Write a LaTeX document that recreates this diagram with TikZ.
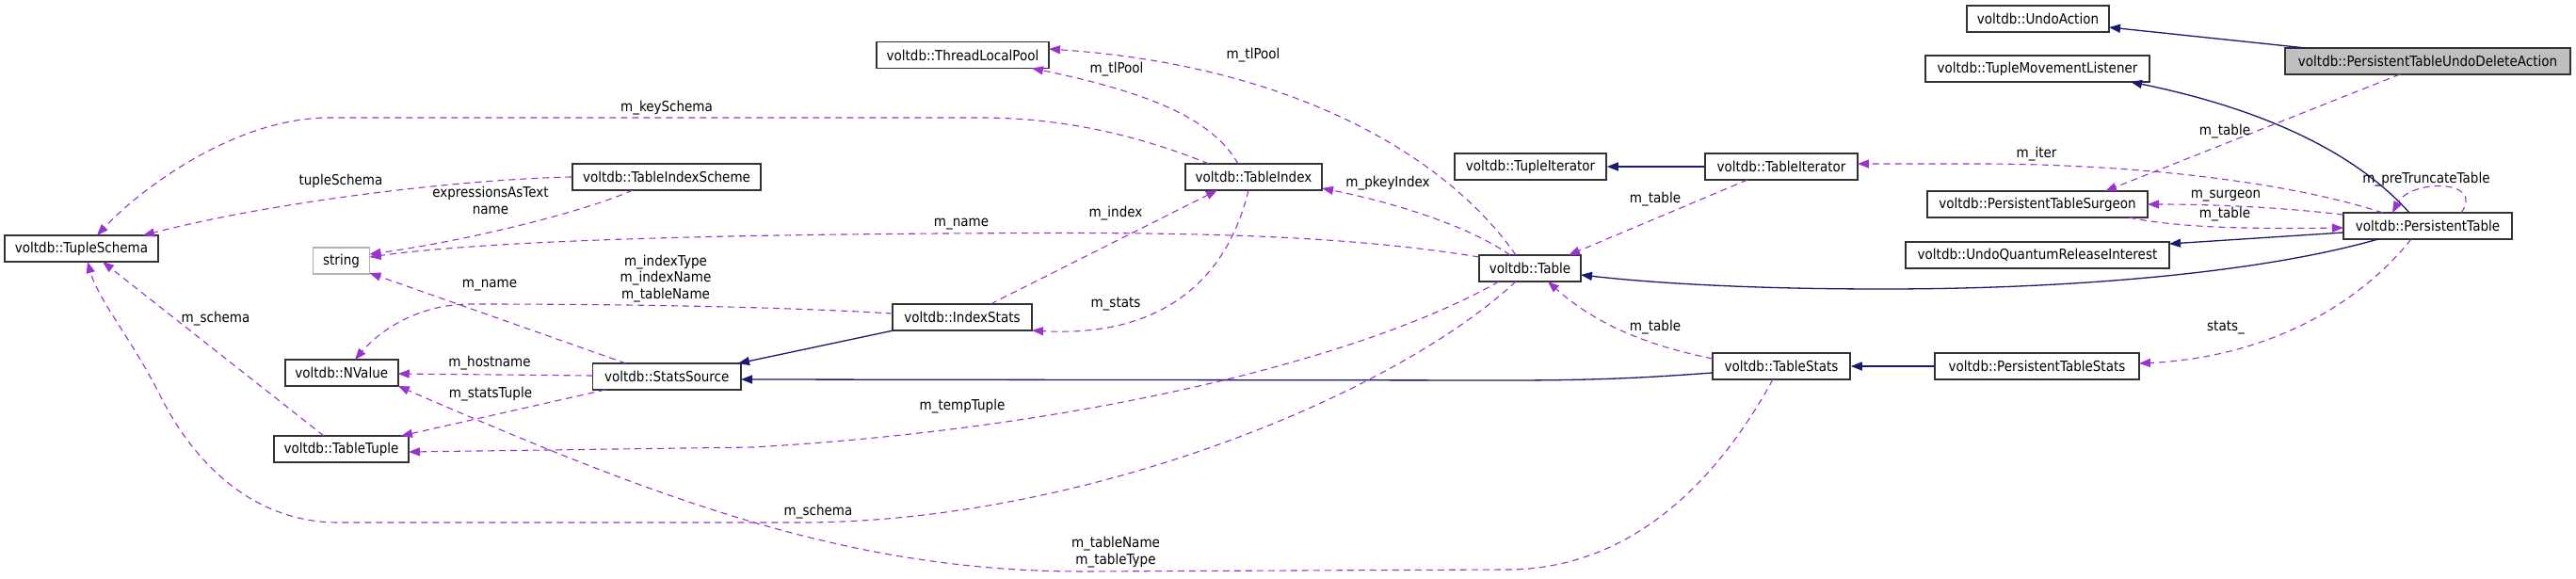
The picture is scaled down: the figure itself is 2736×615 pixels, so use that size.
\documentclass[tikz,border=0pt]{standalone}
\usepackage{fontspec}
\setmainfont{DejaVu Sans}[FakeStretch=0.9]
\usetikzlibrary{arrows.meta}
\definecolor{inhcol}{HTML}{191970}
\definecolor{usecol}{HTML}{9A32CD}
\definecolor{bordcol}{HTML}{333333}
\newcommand{\dgfont}{\fontsize{15}{17.5}\selectfont}
\begin{document}
\begin{tikzpicture}[x=1pt,y=-1pt,
  cls/.style={draw=bordcol, line width=1.5pt, fill=white, minimum height=28pt, inner sep=0pt, font=\dgfont},
  strcls/.style={cls, draw=black!30},
  maincls/.style={cls, fill=black!25},
  lbl/.style={inner sep=0pt, align=center, font=\dgfont},
  useedge/.style={draw=usecol, line width=1.1pt, dash pattern=on 7pt off 5pt, -{Triangle[length=12pt,width=9pt]}},
  inhedge/.style={draw=inhcol, line width=1.3pt, -{Triangle[length=12pt,width=9pt]}}]
\useasboundingbox (0,0) rectangle (2736,615);
% nodes
\node[cls, minimum width=163pt] (TS) at (86.5,264) {voltdb::TupleSchema};
\node[strcls, minimum width=60pt] (STR) at (362.5,277) {string};
\node[cls, minimum width=200pt] (TIS) at (708,188) {voltdb::TableIndexScheme};
\node[cls, minimum width=120pt] (NV) at (362.75,396) {voltdb::NValue};
\node[cls, minimum width=143pt] (TT) at (362.5,477) {voltdb::TableTuple};
\node[cls, minimum width=157.5pt] (SS) at (708.25,400) {voltdb::StatsSource};
\node[cls, minimum width=183pt] (TLP) at (1022.5,58.5) {voltdb::ThreadLocalPool};
\node[cls, minimum width=145pt] (TI) at (1331.5,188) {voltdb::TableIndex};
\node[cls, minimum width=148pt] (IS) at (1022,337) {voltdb::IndexStats};
\node[cls, minimum width=161pt] (TupIt) at (1625.5,177) {voltdb::TupleIterator};
\node[cls, minimum width=162pt] (TabIt) at (1892,177) {voltdb::TableIterator};
\node[cls, minimum width=108pt] (TAB) at (1625,285) {voltdb::Table};
\node[cls, minimum width=146pt] (TST) at (1892,389) {voltdb::TableStats};
\node[cls, minimum width=151pt] (UA) at (2164.5,20) {voltdb::UndoAction};
\node[maincls, minimum width=303pt] (PTUDA) at (2578.5,65) {voltdb::PersistentTableUndoDeleteAction};
\node[cls, minimum width=238pt] (TML) at (2164,73) {voltdb::TupleMovementListener};
\node[cls, minimum width=234pt] (PTS) at (2164,217) {voltdb::PersistentTableSurgeon};
\node[cls, minimum width=179pt] (PT) at (2578.5,240) {voltdb::PersistentTable};
\node[cls, minimum width=280pt] (UQRI) at (2164,271) {voltdb::UndoQuantumReleaseInterest};
\node[cls, minimum width=217pt] (PTSt) at (2163.5,389) {voltdb::PersistentTableStats};
% inheritance edges
\draw[inhedge] ([shift={(-129.5,-14)}]PTUDA.center) -- ([shift={(75.5,9)}]UA.center);
\draw[inhedge] ([shift={(-19.5,-14)}]PT.center) .. controls (2500,160) and (2400,115) .. ([shift={(99,14)}]TML.center);
\draw[inhedge] ([shift={(-89.5,7)}]PT.center) -- ([shift={(140,-12)}]UQRI.center);
\draw[inhedge] ([shift={(-52.5,14)}]PT.center) .. controls (2400,290) and (2200,307) .. (2000,307) .. controls (1850,307) and (1750,300) .. ([shift={(54,7)}]TAB.center);
\draw[inhedge] (TabIt.west) -- (TupIt.east);
\draw[inhedge] ([shift={(-73,7)}]TST.center) .. controls (1750,401) and (1700,404) .. (1600,404) -- ([shift={(78.75,3)}]SS.center);
\draw[inhedge] ([shift={(-73,14)}]IS.center) -- ([shift={(75.75,-14)}]SS.center);
\draw[inhedge] (PTSt.west) -- (TST.east);
% usage edges
\draw[useedge] ([shift={(-47.5,-14)}]TI.center) .. controls (1200,140) and (1120,125) .. (1040,125) -- (350,125) .. controls (250,125) and (150,200) .. ([shift={(16.5,-14)}]TS.center);
\draw[useedge] (TIS.west) .. controls (500,190) and (300,212) .. ([shift={(65.5,-14)}]TS.center);
\draw[useedge] ([shift={(-36,14)}]TIS.center) .. controls (620,225) and (500,255) .. ([shift={(30,-7)}]STR.center);
\draw[useedge] ([shift={(-54,-12)}]TAB.center) .. controls (1400,245) and (1200,247) .. (1000,248) .. controls (700,250) and (500,258) .. ([shift={(30,-4)}]STR.center);
\draw[useedge] ([shift={(-43.25,-14)}]SS.center) -- ([shift={(30,13)}]STR.center);
\draw[useedge] ([shift={(-74,-4)}]IS.center) .. controls (850,327) and (700,323) .. (500,323) .. controls (440,323) and (400,355) .. ([shift={(14.25,-14)}]NV.center);
\draw[useedge] ([shift={(-78.75,-1)}]SS.center) -- ([shift={(60,1)}]NV.center);
\draw[useedge] ([shift={(-65.25,14)}]SS.center) -- ([shift={(63.5,-14)}]TT.center);
\draw[useedge] ([shift={(-33,14)}]TAB.center) .. controls (1450,380) and (1150,455) .. (800,475) -- ([shift={(71.5,3)}]TT.center);
\draw[useedge] ([shift={(-15,14)}]TAB.center) .. controls (1480,420) and (1150,555) .. (850,555) -- (360,555) .. controls (260,555) and (200,480) .. (170,420) .. controls (140,360) and (105,320) .. ([shift={(6.5,14)}]TS.center);
\draw[useedge] ([shift={(-18.5,-14)}]TT.center) -- ([shift={(22.5,14)}]TS.center);
\draw[useedge] ([shift={(-9,14)}]TST.center) .. controls (1830,500) and (1740,605) .. (1600,605) -- (1150,607) .. controls (900,607) and (700,530) .. ([shift={(60,14)}]NV.center);
\draw[useedge] ([shift={(30,-14)}]IS.center) -- ([shift={(-38.5,14)}]TI.center);
\draw[useedge] ([shift={(-5.5,14)}]TI.center) .. controls (1300,310) and (1220,358) .. ([shift={(74,14)}]IS.center);
\draw[useedge] ([shift={(-16.5,-14)}]TI.center) .. controls (1290,130) and (1230,100) .. ([shift={(73.5,14)}]TLP.center);
\draw[useedge] ([shift={(-15,-14)}]TAB.center) .. controls (1540,170) and (1380,70) .. ([shift={(91.5,-6.5)}]TLP.center);
\draw[useedge] ([shift={(-21,-14)}]TAB.center) .. controls (1560,240) and (1480,215) .. ([shift={(72.5,12)}]TI.center);
\draw[useedge] ([shift={(-36,14)}]TabIt.center) -- ([shift={(41,-14)}]TAB.center);
\draw[useedge] ([shift={(-73,-8)}]TST.center) .. controls (1740,365) and (1690,340) .. ([shift={(19,14)}]TAB.center);
\draw[useedge] ([shift={(-47.5,-14)}]PT.center) .. controls (2420,190) and (2250,174) .. (2100,174) -- ([shift={(81,-3)}]TabIt.center);
\draw[useedge] ([shift={(-29.5,14)}]PTUDA.center) -- ([shift={(72,-14)}]PTS.center);
\draw[useedge] ([shift={(-89.5,-12)}]PT.center) .. controls (2420,220) and (2350,217) .. ([shift={(117,0)}]PTS.center);
\draw[useedge] ([shift={(97,14)}]PTS.center) .. controls (2320,243) and (2400,243) .. ([shift={(-89.5,2)}]PT.center);
\draw[useedge] ([shift={(35.5,-14)}]PT.center) .. controls (2640,190) and (2560,190) .. ([shift={(-37.5,-14)}]PT.center);
\draw[useedge] ([shift={(-17.5,14)}]PT.center) .. controls (2500,330) and (2400,380) .. ([shift={(108.5,-3)}]PTSt.center);
% labels
\node[lbl] (l1) at (708,115) {m\_keySchema};
\node[lbl] (l2) at (362,192) {tupleSchema};
\node[lbl] (l3) at (521,213) {expressionsAsText\\name};
\node[lbl] (l4) at (1021,238) {m\_name};
\node[lbl] (l5) at (520,303) {m\_name};
\node[lbl] (l6) at (707,296) {m\_indexType\\m\_indexName\\m\_tableName};
\node[lbl] (l7) at (520,386) {m\_hostname};
\node[lbl] (l8) at (521,419) {m\_statsTuple};
\node[lbl] (l9) at (1022,432) {m\_tempTuple};
\node[lbl] (l10) at (869,544) {m\_schema};
\node[lbl] (l11) at (229,339) {m\_schema};
\node[lbl] (l12) at (1185,586.5) {m\_tableName\\m\_tableType};
\node[lbl] (l13) at (1185,227) {m\_index};
\node[lbl] (l14) at (1185,323) {m\_stats};
\node[lbl] (l15) at (1186,74) {m\_tlPool};
\node[lbl] (l16) at (1331,59) {m\_tlPool};
\node[lbl] (l17) at (1474,195) {m\_pkeyIndex};
\node[lbl] (l18) at (1758,212) {m\_table};
\node[lbl] (l19) at (1758,348) {m\_table};
\node[lbl] (l20) at (2163,164) {m\_iter};
\node[lbl] (l21) at (2363,140) {m\_table};
\node[lbl] (l22) at (2364,208) {m\_surgeon};
\node[lbl] (l23) at (2363,228) {m\_table};
\node[lbl] (l24) at (2577,191) {m\_preTruncateTable};
\node[lbl] (l25) at (2364,348) {stats\_};
\end{tikzpicture}
\end{document}
